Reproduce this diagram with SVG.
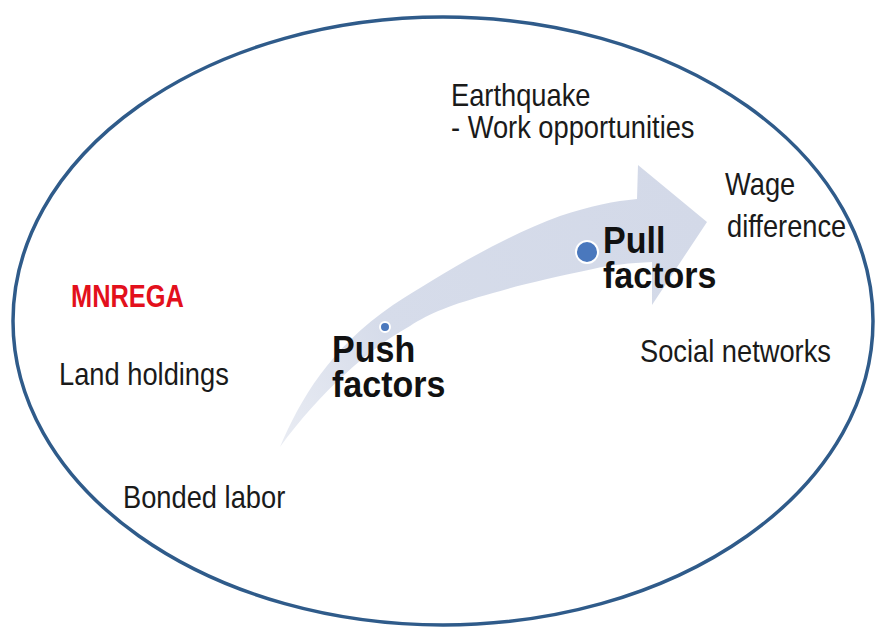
<svg xmlns="http://www.w3.org/2000/svg" width="880" height="630" viewBox="0 0 880 630">
<style>
.t{font-family:"Liberation Sans",Arial,sans-serif;font-size:31px;fill:#1a1a1a}
.b{font-family:"Liberation Sans",Arial,sans-serif;font-size:37px;font-weight:bold;fill:#111}
.r{font-family:"Liberation Sans",Arial,sans-serif;font-size:31px;font-weight:bold;fill:#e3101c}
.dot{fill:#4a78bd;stroke:#ffffff;stroke-width:2}
</style>
<defs>
<linearGradient id="ag" x1="280" y1="447" x2="707" y2="222" gradientUnits="userSpaceOnUse">
<stop offset="0" stop-color="#e9ecf3"/>
<stop offset="0.3" stop-color="#d6dcea"/>
<stop offset="1" stop-color="#d3d9e8"/>
</linearGradient>
</defs>
<rect width="880" height="630" fill="#ffffff"/>
<g id="boundary">
<ellipse cx="443" cy="321" rx="430" ry="304" fill="none" stroke="#2f5b8a" stroke-width="3.5"/>
</g>
<g id="connectors">
<path d="M280,447 C300,400 330,348 393,305 C440,275 500,238 560,216 C590,206 615,201 637,199 L638,165 L707,222 L652,305 L652,262 C630,263 610,265 593,269 C550,278 520,285 493,293 C450,305 430,313 410,326 C370,348 320,392 280,447 Z" fill="url(#ag)"/>
</g>
<g id="push">
<circle class="dot" cx="385" cy="327" r="5"/>
<text class="b" transform="translate(332,362) scale(0.92,1)">Push</text>
<text class="b" transform="translate(332,397) scale(0.92,1)">factors</text>
</g>
<g id="pull">
<circle class="dot" cx="587" cy="252" r="11"/>
<text class="b" transform="translate(603,253) scale(0.92,1)">Pull</text>
<text class="b" transform="translate(603,288) scale(0.92,1)">factors</text>
</g>
<g id="earthquake">
<text class="t" transform="translate(451,106) scale(0.88,1)">Earthquake</text>
<text class="t" transform="translate(451,138) scale(0.88,1)">- Work opportunities</text>
</g>
<g id="wage">
<text class="t" transform="translate(725,195) scale(0.88,1)">Wage</text>
<text class="t" transform="translate(727,237) scale(0.88,1)">difference</text>
</g>
<g id="social">
<text class="t" transform="translate(640,362) scale(0.88,1)">Social networks</text>
</g>
<g id="mnrega">
<text class="r" transform="translate(71,307) scale(0.82,1)">MNREGA</text>
</g>
<g id="land">
<text class="t" transform="translate(59,385) scale(0.88,1)">Land holdings</text>
</g>
<g id="bonded">
<text class="t" transform="translate(123,508) scale(0.88,1)">Bonded labor</text>
</g>
</svg>
